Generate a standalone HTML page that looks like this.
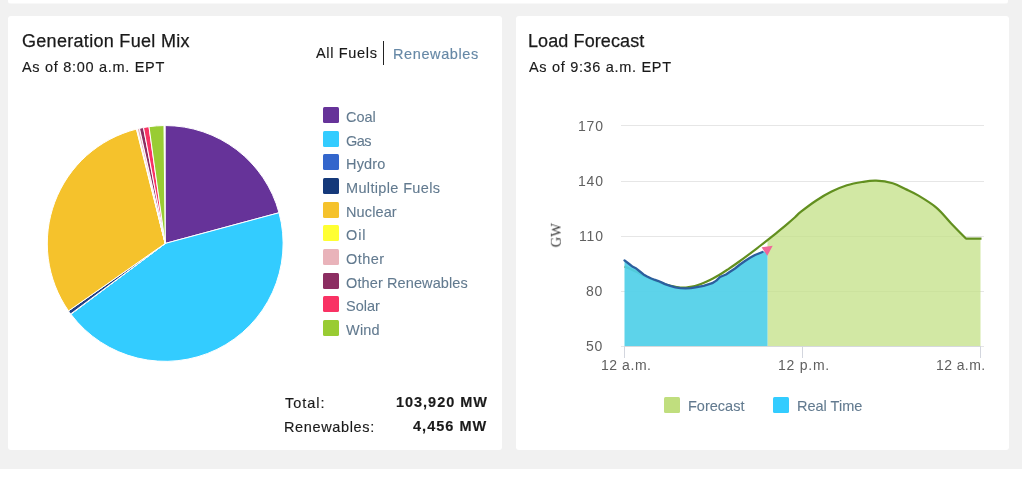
<!DOCTYPE html>
<html><head><meta charset="utf-8">
<style>
html,body{margin:0;padding:0;}
body{width:1022px;height:488px;background:#f1f1f1;position:relative;overflow:hidden;font-family:"Liberation Sans",sans-serif;}
.abs{position:absolute;}
.strip{left:8px;top:0;width:1000px;height:4px;background:linear-gradient(#fff 0,#fff 3px,#f8f8f8 3px,#f8f8f8 4px);border-radius:0 0 3px 3px;}
.bot{left:0;top:469px;width:1022px;height:19px;background:#fff;}
.card{background:#fff;border-radius:3px;top:16px;height:434px;}
#c1{left:8px;width:494px;}
#c2{left:516px;width:493px;}
.t{will-change:transform;white-space:nowrap;color:#1a1a1a;line-height:1;}
.h{font-size:18px;-webkit-text-stroke-width:0.25px;}
.s{font-size:14.5px;-webkit-text-stroke-width:0.15px;}
.lg{font-size:14.5px;color:#627a8f;-webkit-text-stroke-width:0.1px;}
.sq{position:absolute;width:16px;height:16px;border-radius:1.5px;}
.ax{font-size:14px;color:#606060;}
svg{position:absolute;left:0;top:0;}
</style></head>
<body>
<div class="abs strip"></div>
<div class="abs card" id="c1"></div>
<div class="abs card" id="c2"></div>
<div class="abs bot"></div>

<div class="abs t h" style="left:21.5px;top:31.5px;letter-spacing:0.3px;">Generation Fuel Mix</div>
<div class="abs t s" style="left:21.7px;top:60px;letter-spacing:0.7px;">As of 8:00 a.m. EPT</div>

<div class="abs t s" style="left:315.7px;top:46.3px;letter-spacing:0.66px;">All Fuels</div>
<div class="abs" style="left:383px;top:41px;width:1px;height:24px;background:#222;"></div>
<div class="abs t s" style="left:393px;top:47px;color:#6688a6;letter-spacing:0.6px;">Renewables</div>

<div class="abs t h" style="left:528.4px;top:31.8px;letter-spacing:0.1px;">Load Forecast</div>
<div class="abs t s" style="left:529px;top:60px;letter-spacing:0.68px;">As of 9:36 a.m. EPT</div>

<svg width="1022" height="488" viewBox="0 0 1022 488">
<g stroke="#fff" stroke-width="1" stroke-linejoin="round">
<path d="M165.2 243.45L165.20 125.55A117.9 117.9 0 0 1 279.03 212.74Z" fill="#663399"/>
<path d="M165.2 243.45L279.03 212.74A117.9 117.9 0 0 1 70.92 314.24Z" fill="#33ccff"/>
<path d="M165.2 243.45L70.92 314.24A117.9 117.9 0 0 1 70.67 313.91Z" fill="#3566c9"/>
<path d="M165.2 243.45L70.67 313.91A117.9 117.9 0 0 1 68.50 310.91Z" fill="#213f85"/>
<path d="M165.2 243.45L68.50 310.91A117.9 117.9 0 0 1 136.48 129.10Z" fill="#f5c22c"/>
<path d="M165.2 243.45L136.48 129.10A117.9 117.9 0 0 1 137.28 128.90Z" fill="#ffff33"/>
<path d="M165.2 243.45L137.28 128.90A117.9 117.9 0 0 1 139.48 128.39Z" fill="#e9b3ba"/>
<path d="M165.2 243.45L139.48 128.39A117.9 117.9 0 0 1 143.51 127.56Z" fill="#8c2e62"/>
<path d="M165.2 243.45L143.51 127.56A117.9 117.9 0 0 1 149.00 126.67Z" fill="#f93264"/>
<path d="M165.2 243.45L149.00 126.67A117.9 117.9 0 0 1 163.97 125.56Z" fill="#99cc33"/>
</g>

<!-- load forecast chart -->
<g stroke="#e6e6e6" stroke-width="1">
<path d="M621 125.5H984"/>
<path d="M621 181.5H984"/>
<path d="M621 236.5H984"/>
<path d="M621 291.5H984"/>
<path d="M621 346.5H984"/>
</g>

<!-- chart -->
<path d="M767.5 240.08 C767.92 239.75 768.58 239.23 770 238.1 C771.42 236.97 774.00 234.92 776 233.3 C778.00 231.68 780.00 230.07 782 228.4 C784.00 226.73 785.83 225.17 788 223.3 C790.17 221.43 792.83 219.13 795 217.2 C797.17 215.27 797.45 214.48 801 211.7 C804.55 208.92 811.20 203.85 816.3 200.5 C821.40 197.15 826.50 194.13 831.6 191.6 C836.70 189.07 841.82 186.90 846.9 185.3 C851.98 183.70 857.23 182.77 862.1 182 C866.97 181.23 871.00 180.50 876.1 180.7 C881.20 180.90 887.82 181.82 892.7 183.2 C897.58 184.58 901.17 186.97 905.4 189 C909.63 191.03 912.90 192.27 918.1 195.4 C923.30 198.53 931.08 203.13 936.6 207.8 C942.12 212.47 946.30 218.27 951.2 223.4 C956.10 228.53 963.53 236.07 966 238.6 L980.5 238.6 L980.5 346 L767.5 346Z" fill="#c3e086" fill-opacity="0.75"/>
<path d="M624.5 266.5 C625.28 266.85 627.23 267.72 629.2 268.6 C631.17 269.48 633.92 270.67 636.3 271.8 C638.68 272.93 641.10 274.25 643.5 275.4 C645.90 276.55 648.45 277.68 650.7 278.7 C652.95 279.72 654.62 280.58 657 281.5 C659.38 282.42 662.50 283.45 665 284.2 C667.50 284.95 669.50 285.45 672 286 C674.50 286.55 677.67 287.23 680 287.5 C682.33 287.77 684.00 287.73 686 287.6 C688.00 287.47 690.00 287.12 692 286.7 C694.00 286.27 696.00 285.70 698 285.05 C700.00 284.40 702.00 283.64 704 282.8 C706.00 281.96 708.00 281.00 710 280.0 C712.00 279.00 714.00 277.93 716 276.8 C718.00 275.67 720.00 274.45 722 273.2 C724.00 271.95 726.00 270.62 728 269.3 C730.00 267.98 732.00 266.63 734 265.25 C736.00 263.87 738.00 262.44 740 261 C742.00 259.56 744.00 258.08 746 256.6 C748.00 255.12 750.00 253.62 752 252.1 C754.00 250.58 756.00 249.04 758 247.5 C760.00 245.96 762.00 244.42 764 242.85 C766.00 241.28 768.00 239.69 770 238.1 C772.00 236.51 774.00 234.92 776 233.3 C778.00 231.68 780.00 230.07 782 228.4 C784.00 226.73 785.83 225.17 788 223.3 C790.17 221.43 792.83 219.13 795 217.2 C797.17 215.27 797.45 214.48 801 211.7 C804.55 208.92 811.20 203.85 816.3 200.5 C821.40 197.15 826.50 194.13 831.6 191.6 C836.70 189.07 841.82 186.90 846.9 185.3 C851.98 183.70 857.23 182.77 862.1 182 C866.97 181.23 871.00 180.50 876.1 180.7 C881.20 180.90 887.82 181.82 892.7 183.2 C897.58 184.58 901.17 186.97 905.4 189 C909.63 191.03 912.90 192.27 918.1 195.4 C923.30 198.53 931.08 203.13 936.6 207.8 C942.12 212.47 946.30 218.27 951.2 223.4 C956.10 228.53 963.53 236.07 966 238.6 L981.5 238.6" fill="none" stroke="#628f1f" stroke-width="2.2" stroke-linejoin="round" stroke-linecap="butt"/>
<path d="M624.5 260.4 L629.2 264 L632.8 266.8 L636.3 268.6 L639.9 271.5 L643.5 274.4 L647.1 276.5 L650.7 278.3 L654.3 279.7 L657.8 280.8 L662 282.6 L665.1 284.1 L670.3 285.9 L675.4 287.4 L680.5 288.2 L685.6 288.4 L690.8 288.1 L695.5 287.3 L703.6 285.8 L712.2 283.2 L716.3 280.6 L720 277 L726 274.5 L730 271.8 L735 268.5 L740 264.5 L745 261 L750 257.7 L755 255 L760 253 L762.5 252 L767.5 251 L767.5 346 L624.5 346Z" fill="#51d0e8" fill-opacity="0.93"/>
<path d="M624.5 260.4 L629.2 264 L632.8 266.8 L636.3 268.6 L639.9 271.5 L643.5 274.4 L647.1 276.5 L650.7 278.3 L654.3 279.7 L657.8 280.8 L662 282.6 L665.1 284.1 L670.3 285.9 L675.4 287.4 L680.5 288.2 L685.6 288.4 L690.8 288.1 L695.5 287.3 L703.6 285.8 L712.2 283.2 L716.3 280.6 L720 277 L726 274.5 L730 271.8 L735 268.5 L740 264.5 L745 261 L750 257.7 L755 255 L760 253 L762.5 252" fill="none" stroke="#2b5f9e" stroke-width="2.3" stroke-linejoin="round" stroke-linecap="round"/>
<path d="M761.6 247.3 L772.7 245.8 L767.3 255.8Z" fill="#f0679a"/>
<path d="M624 346.5H981" stroke="#d6d9dc" stroke-width="1"/>
<g stroke="#d3d6de" stroke-width="1">
<path d="M624.5 346V358"/>
<path d="M802.5 346V358"/>
<path d="M980.5 346V358"/>
</g>
<!-- /chart -->
</svg>

<!-- y axis labels -->
<div class="abs t ax" style="right:418.6px;top:119.1px;letter-spacing:0.8px;">170</div>
<div class="abs t ax" style="right:418.6px;top:174.2px;letter-spacing:0.8px;">140</div>
<div class="abs t ax" style="right:418.6px;top:228.8px;letter-spacing:0.8px;">110</div>
<div class="abs t ax" style="right:418.6px;top:284.1px;letter-spacing:0.8px;">80</div>
<div class="abs t ax" style="right:418.6px;top:339.0px;letter-spacing:0.8px;">50</div>
<div class="abs t" style="left:544px;top:228px;font-family:'Liberation Serif',serif;font-size:14.5px;color:#3a3a3a;transform:rotate(-90deg);transform-origin:center;">GW</div>
<div class="abs t ax" style="left:601px;top:358px;letter-spacing:0.55px;">12 a.m.</div>
<div class="abs t ax" style="left:778px;top:358px;letter-spacing:0.75px;">12 p.m.</div>
<div class="abs t ax" style="left:935.5px;top:358px;letter-spacing:0.4px;">12 a.m.</div>

<!-- legends -->
<div class="abs lg" style="left:0;top:0;">
<div class="sq" style="left:322.5px;top:107.00px;background:#663399;"></div>
<div class="abs t lg" style="left:345.8px;top:110.00px;letter-spacing:0px;">Coal</div>
<div class="sq" style="left:322.5px;top:130.67px;background:#33ccff;"></div>
<div class="abs t lg" style="left:345.8px;top:133.67px;letter-spacing:-0.6px;">Gas</div>
<div class="sq" style="left:322.5px;top:154.34px;background:#3366cc;"></div>
<div class="abs t lg" style="left:345.8px;top:157.34px;letter-spacing:0.18px;">Hydro</div>
<div class="sq" style="left:322.5px;top:178.01px;background:#15397a;"></div>
<div class="abs t lg" style="left:345.8px;top:181.01px;letter-spacing:0.35px;">Multiple Fuels</div>
<div class="sq" style="left:322.5px;top:201.68px;background:#f5c22c;"></div>
<div class="abs t lg" style="left:345.8px;top:204.68px;letter-spacing:0.12px;">Nuclear</div>
<div class="sq" style="left:322.5px;top:225.35px;background:#ffff33;"></div>
<div class="abs t lg" style="left:345.8px;top:228.35px;letter-spacing:0.85px;">Oil</div>
<div class="sq" style="left:322.5px;top:249.02px;background:#e9b3ba;"></div>
<div class="abs t lg" style="left:345.8px;top:252.02px;letter-spacing:0.45px;">Other</div>
<div class="sq" style="left:322.5px;top:272.69px;background:#8c2e62;"></div>
<div class="abs t lg" style="left:345.8px;top:275.69px;letter-spacing:0.11px;">Other Renewables</div>
<div class="sq" style="left:322.5px;top:296.36px;background:#f93264;"></div>
<div class="abs t lg" style="left:345.8px;top:299.36px;letter-spacing:0px;">Solar</div>
<div class="sq" style="left:322.5px;top:320.03px;background:#99cc33;"></div>
<div class="abs t lg" style="left:345.8px;top:323.03px;letter-spacing:0.2px;">Wind</div>

<div class="sq" style="left:664px;top:397px;background:#c0de7e;"></div>
<div class="abs t lg" style="left:688px;top:398.5px;">Forecast</div>
<div class="sq" style="left:773px;top:397px;background:#33ccff;"></div>
<div class="abs t lg" style="left:797px;top:399px;">Real Time</div>
</div>

<div class="abs t s" style="left:284.6px;top:396px;letter-spacing:0.98px;">Total:</div>
<div class="abs t s" style="left:283.6px;top:420px;letter-spacing:0.64px;">Renewables:</div>
<div class="abs t s" style="right:534.2px;top:395.2px;font-weight:bold;letter-spacing:0.97px;">103,920 MW</div>
<div class="abs t s" style="right:534.2px;top:419.3px;font-weight:bold;letter-spacing:1.03px;">4,456 MW</div>
</body></html>
